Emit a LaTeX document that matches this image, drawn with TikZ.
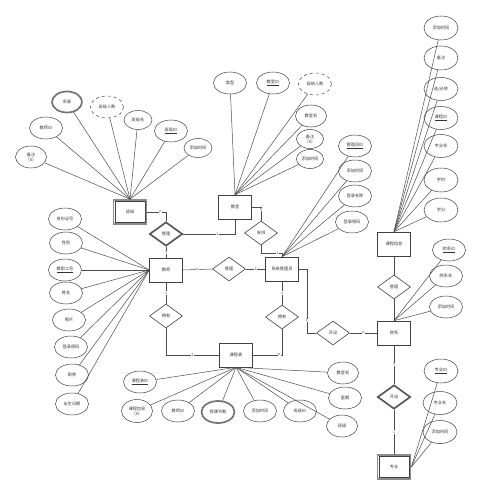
\documentclass[tikz,border=0pt]{standalone}
\usepackage{fontspec}
\setmainfont{Noto Sans CJK SC}
\usetikzlibrary{shapes.geometric}
\begin{document}
\begin{tikzpicture}[x=1pt,y=-1pt,
  every node/.style={font=\fontsize{4.2}{5}\selectfont, text=black!80},
  attr/.style={ellipse, draw=black!75, line width=0.5pt, minimum width=33pt, minimum height=22pt, inner sep=0pt, align=center},
  sattr/.style={attr, minimum width=28pt, minimum height=19pt},
  dattr/.style={attr, dashed},
  battr/.style={attr, draw=black!55, line width=1.7pt},
  ent/.style={rectangle, draw=black!75, line width=0.6pt, minimum width=33pt, minimum height=24pt, inner sep=0pt},
  went/.style={ent, draw=black!45, line width=1.7pt},
  rel/.style={diamond, draw=black!75, line width=0.6pt, minimum width=33pt, minimum height=24pt, inner sep=0pt},
  brel/.style={rel, draw=black!65, line width=1.7pt},
  link/.style={draw=black!70, line width=0.5pt},
  card/.style={fill=white, inner sep=0.4pt, font=\fontsize{3.5}{4}\selectfont}
]
\useasboundingbox[fill=white] (0,0) rectangle (487,500);

% ---------- entities ----------
\node[went] (bj) at (130,212) {班级};
\node[ent] (ls) at (166,270) {教师};
\node[ent] (jsr) at (235,207) {教室};
\node[ent] (adm) at (282,269) {系统管理员};
\node[ent] (kb) at (236,355) {课程表};
\node[ent] (kx) at (394,244) {课程信息};
\node[ent] (yx) at (394,333) {院系};
\node[went] (zy) at (394,467) {专业};
\draw[black!75, line width=0.4pt] ([xshift=2.3pt,yshift=-2.3pt]bj.north west) rectangle ([xshift=-2.3pt,yshift=2.3pt]bj.south east);
\draw[black!75, line width=0.4pt] ([xshift=2.3pt,yshift=-2.3pt]zy.north west) rectangle ([xshift=-2.3pt,yshift=2.3pt]zy.south east);

% ---------- relationships ----------
\node[brel] (r1) at (166,234) {管理};
\node[rel] (r2) at (229,269) {管理};
\node[rel] (r3) at (261,233) {安排};
\node[rel] (r4) at (166,316) {拥有};
\node[rel] (r5) at (282,317) {拥有};
\node[rel] (r6) at (333,333) {开设};
\node[rel] (r7) at (394,287) {管理};
\node[brel] (r8) at (394,397) {开设};

% ---------- 班级 attributes ----------
\node[battr, minimum width=30pt, minimum height=21pt] (bj1) at (67,102) {系部};
\node[dattr] (bj2) at (107,107) {班级人数};
\node[sattr] (bj3) at (138,120) {班级名};
\node[attr] (bj4) at (171,131) {\underline{班级ID}};
\node[sattr] (bj5) at (198,148) {添加时间};
\node[attr] (bj6) at (46,128) {教师ID};
\node[attr, minimum width=31pt] (bj7) at (31,157) {备注\\（0）};
\foreach \a in {bj1,bj2,bj3,bj4,bj5,bj6,bj7} \draw[link] (\a) -- (bj.north);

% ---------- 教师 attributes ----------
\node[attr] (ls1) at (65,219) {身份证号};
\node[attr] (ls2) at (66,243) {性别};
\node[attr] (ls3) at (65,270) {\underline{教职工号}};
\node[attr] (ls4) at (66,293) {姓名};
\node[attr] (ls5) at (69,320) {照片};
\node[attr] (ls6) at (71,347) {登录密码};
\node[attr] (ls7) at (72,375) {职称};
\node[attr] (ls8) at (72,404) {出生日期};
\foreach \a in {ls1,ls2,ls3,ls4,ls5,ls6,ls7,ls8} \draw[link] (\a) -- (ls.west);

% ---------- 教室 attributes ----------
\node[attr] (js1) at (230,83) {类型};
\node[attr] (js2) at (273,83) {\underline{教室ID}};
\node[dattr] (js3) at (315,84) {容纳人数};
\node[attr, minimum width=31pt] (js4) at (311,116) {教室名};
\node[sattr, minimum width=27pt] (js5) at (310,139) {备注\\（0）};
\node[sattr, minimum width=27pt] (js6) at (310,159) {添加时间};
\foreach \a in {js1,js2,js3,js4,js5,js6} \draw[link] (\a) -- (jsr.north);

% ---------- 系统管理员 attributes ----------
\node[attr] (ad1) at (355,146) {\underline{管理员ID}};
\node[attr] (ad2) at (355,171) {添加时间};
\node[attr] (ad3) at (355,196) {登录名称};
\node[attr] (ad4) at (352,222) {登录密码};
\foreach \a in {ad1,ad2,ad3,ad4} \draw[link] (\a) -- (adm.north);

% ---------- 课程表 attributes ----------
\node[attr] (kb1) at (140,382) {\underline{课程表ID}};
\node[attr, minimum width=31pt, minimum height=23pt] (kb2) at (137,411) {课程信息\\（0）};
\node[attr] (kb3) at (178,411) {教师ID};
\node[battr] (kb4) at (218,412) {授课节数};
\node[attr] (kb5) at (260,411) {添加时间};
\node[attr] (kb6) at (300,411) {班级ID};
\node[attr, minimum width=31pt] (kb7) at (343,373) {教室名};
\node[attr] (kb8) at (345,398) {星期};
\node[attr, minimum width=31pt] (kb9) at (342,426) {班级};
\foreach \a in {kb1,kb2,kb3,kb4,kb5,kb6,kb7,kb8,kb9} \draw[link] (\a) -- (kb.south);

% ---------- 课程信息 attributes ----------
\node[attr, minimum width=34pt, minimum height=24pt] (kx1) at (441,28) {添加时间};
\node[attr, minimum width=34pt, minimum height=24pt] (kx2) at (441,58) {备注};
\node[attr, minimum width=34pt, minimum height=23pt] (kx3) at (441,89) {选/必修};
\node[attr, minimum width=34pt, minimum height=23pt] (kx4) at (441,118) {\underline{课程ID}};
\node[attr, minimum width=34pt, minimum height=23pt] (kx5) at (441,146) {专业名};
\node[attr, minimum width=34pt, minimum height=24pt] (kx6) at (441,180) {学时};
\node[attr, minimum width=34pt, minimum height=24pt] (kx7) at (441,210) {学分};
\foreach \a in {kx1,kx2,kx3,kx4,kx5,kx6,kx7} \draw[link] (\a) -- (kx.north);

% ---------- 院系 attributes ----------
\node[attr] (yx1) at (449,250) {\underline{院系ID}};
\node[attr] (yx2) at (446,276) {院系名};
\node[attr] (yx3) at (446,307) {添加时间};
\foreach \a in {yx1,yx2,yx3} \draw[link] (\a) -- (yx.north);

% ---------- 专业 attributes ----------
\node[attr, minimum width=34pt, minimum height=24pt] (zy1) at (441,371) {\underline{专业ID}};
\node[attr, minimum width=34pt, minimum height=23pt] (zy2) at (440,403) {专业名};
\node[attr, minimum width=34pt, minimum height=23pt] (zy3) at (440,432) {添加时间};
\foreach \a in {zy1,zy2,zy3} \draw[link] (\a) -- (zy.east);

% ---------- relationship connectors ----------
\draw[link] (bj.east) -| node[card, pos=0.35] {n} (r1.north);
\draw[link] (r1.east) -| node[card, pos=0.33] {1} (jsr.south);
\draw[link] (r1.south) -- node[card] {1} (ls.north);
\draw[link] (jsr.east) -| node[card, pos=0.6] {n} (r3.north);
\draw[link] (r3.south) -- ++(0,8) -| node[card, pos=0.4] {1} (adm.north);
\draw[link] (ls.east) -- node[card] {n} (r2.west);
\draw[link] (r2.east) -- node[card] {1} (adm.west);
\draw[link] (ls.south) -- node[card] {1} (r4.north);
\draw[link] (r4.south) |- node[card, pos=0.75] {1} (kb.west);
\draw[link] (adm.south) -- node[card] {1} (r5.north);
\draw[link] (r5.south) |- node[card, pos=0.55] {n} (kb.east);
\draw[link] (adm.east) -- ++(8,0) |- node[card, pos=0.4] {1} (r6.west);
\draw[link] (r6.east) -- node[card] {n} (yx.west);
\draw[link] (kx.south) -- (r7.north);
\draw[link] (r7.south) -- (yx.north);
\draw[link] (yx.south) -- node[card] {1} (r8.north);
\draw[link] (r8.south) -- node[card] {1} (zy.north);
\end{tikzpicture}
\end{document}
